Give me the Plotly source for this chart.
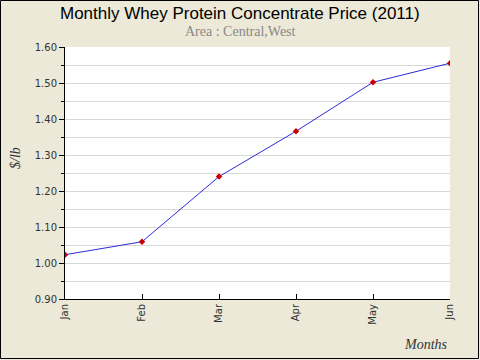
import plotly.graph_objects as go

months = ["Jan", "Feb", "Mar", "Apr", "May", "Jun"]
prices = [1.023, 1.059, 1.240, 1.366, 1.502, 1.555]
y_ticks = [0.90, 1.00, 1.10, 1.20, 1.30, 1.40, 1.50, 1.60]

W, H = 480, 360
L, R, T, B = 65, 30, 47, 61
pw, ph = W - L - R, H - T - B

fig = go.Figure()
fig.add_trace(go.Scatter(
    x=list(range(len(months))), y=prices, mode="lines+markers",
    line=dict(color="#2B2BD6", width=1),
    marker=dict(symbol="diamond", size=5, color="#CC0000"),
    showlegend=False, hoverinfo="skip"))

fig.update_layout(
    width=W, height=H,
    margin=dict(l=L, r=R, t=T, b=B),
    paper_bgcolor="#ECE9D8", plot_bgcolor="white",
    xaxis=dict(range=[0, 5], tickmode="array", tickvals=list(range(len(months))),
               ticktext=months, tickangle=-90, ticks="inside", ticklen=5,
               tickcolor="black", showline=True, linecolor="black", linewidth=1,
               showgrid=False, zeroline=False,
               tickfont=dict(family="DejaVu Sans", size=10, color="#333333")),
    yaxis=dict(range=[0.9, 1.6], tickmode="array", tickvals=y_ticks,
               ticktext=[f"{v:.2f}" for v in y_ticks], ticks="outside", ticklen=5,
               tickcolor="black", showline=True, linecolor="black", linewidth=1,
               showgrid=False, zeroline=False,
               minor=dict(dtick=0.05, showgrid=True, gridcolor="#D8D8D8", gridwidth=1,
                          ticks="outside", ticklen=3, tickcolor="black"),
               tickfont=dict(family="DejaVu Sans", size=10, color="#333333")),
    annotations=[
        dict(text="Monthly Whey Protein Concentrate Price (2011)", xref="paper", yref="paper",
             x=(240 - L) / pw, y=1 + (T - 13) / ph, xanchor="center", yanchor="middle",
             showarrow=False, font=dict(family="Liberation Sans, Arial", size=17, color="black")),
        dict(text="Area : Central,West", xref="paper", yref="paper",
             x=(240 - L) / pw, y=1 + (T - 32) / ph, xanchor="center", yanchor="middle",
             showarrow=False, font=dict(family="Liberation Serif, Times New Roman", size=14, color="#888888")),
        dict(text="<i>$/lb</i>", xref="paper", yref="paper", textangle=-90,
             x=(15 - L) / pw, y=1 - (158 - T) / ph, xanchor="center", yanchor="middle",
             showarrow=False, font=dict(family="Liberation Serif, Times New Roman", size=14, color="#333333")),
        dict(text="<i>Months</i>", xref="paper", yref="paper",
             x=(450 - L) / pw, y=-(344 - H + B) / ph, xanchor="right", yanchor="middle",
             showarrow=False, font=dict(family="Liberation Serif, Times New Roman", size=14, color="#333333")),
    ],
    shapes=[dict(type="rect", xref="paper", yref="paper",
                 x0=(0.5 - L) / pw, x1=(W - 1.5 - L) / pw,
                 y0=-(B - 1.5) / ph, y1=1 + (T - 0.5) / ph,
                 line=dict(color="black", width=1), layer="below")],
)

fig.write_html("out.html", config={"displayModeBar": False},
               post_script="document.body.style.margin='0';document.body.style.overflow='hidden';")
